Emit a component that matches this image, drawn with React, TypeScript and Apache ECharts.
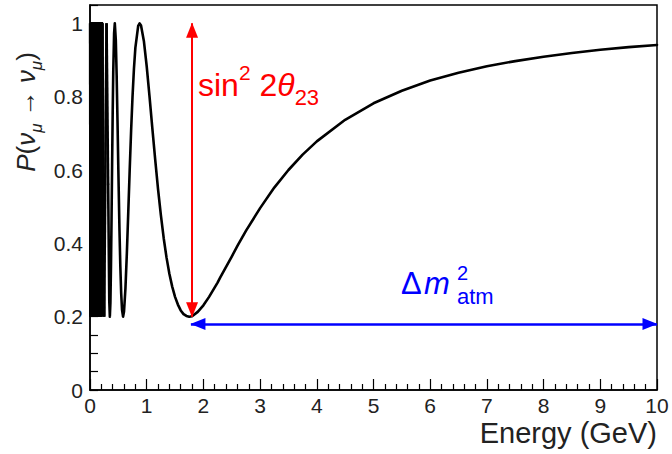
import React, { useEffect, useRef } from "react";
import * as echarts from "echarts";

// Muon-neutrino survival probability
const energyGeV = [
  0.002, 0.01, 0.018, 0.026, 0.034, 0.042, 0.05, 0.058, 0.066, 0.074, 0.082, 0.09, 0.098, 0.106,
  0.114, 0.122, 0.13, 0.138, 0.146, 0.1591, 0.175, 0.1944, 0.2188, 0.25, 0.2917, 0.32, 0.34,
  0.35, 0.36, 0.37, 0.38, 0.39, 0.4, 0.41, 0.425, 0.4375, 0.455, 0.47, 0.485, 0.5, 0.52, 0.535,
  0.55, 0.565, 0.583, 0.6, 0.625, 0.65, 0.675, 0.7, 0.725, 0.75, 0.775, 0.8, 0.85, 0.875, 0.9,
  0.95, 1.0, 1.05, 1.1, 1.15, 1.2, 1.25, 1.3, 1.35, 1.4, 1.45, 1.5, 1.55, 1.6, 1.65, 1.7, 1.75,
  1.8, 1.9, 2.0, 2.1, 2.2, 2.25, 2.3, 2.4, 2.5, 2.6, 2.75, 3.0, 3.25, 3.5, 3.75, 4.0, 4.5, 5.0,
  5.5, 6.0, 6.5, 7.0, 7.5, 8.0, 8.5, 9.0, 9.5, 10.0,
];
const survivalProb = [
  1.0, 0.2, 1.0, 0.2, 1.0, 0.2, 1.0, 0.2, 1.0, 0.2, 1.0, 0.2, 1.0, 0.2,
  1.0, 0.2, 1.0, 0.2, 1.0, 0.2, 1.0, 0.2, 1.0, 0.2, 1.0, 0.56, 0.242,
  0.2, 0.238, 0.337, 0.468, 0.616, 0.753, 0.867, 0.973, 1.0, 0.955, 0.859, 0.734, 0.6, 0.435, 0.337,
  0.264, 0.219, 0.2, 0.214, 0.277, 0.373, 0.485, 0.6, 0.707, 0.8, 0.876, 0.933, 0.993, 1.0, 0.994,
  0.952, 0.883, 0.8, 0.713, 0.628, 0.548, 0.477, 0.414, 0.361, 0.317, 0.282, 0.254, 0.233, 0.217, 0.207, 0.202, 0.2,
  0.201, 0.213, 0.231, 0.254, 0.28, 0.293, 0.308, 0.336, 0.364, 0.393, 0.434, 0.496, 0.552, 0.6, 0.642, 0.678, 0.737, 0.782,
  0.816, 0.844, 0.865, 0.883, 0.897, 0.909, 0.919, 0.928, 0.935, 0.941,
];
// envelope of the unresolved fast oscillations at low energy (solid black band)
const bandEnergy = [0.0, 0.232];
const bandTop = [1.0, 1.0];
const bandBottom = 0.2;
// the fast-oscillation region (points below this index) is drawn segment by segment
const denseEndIndex = 25;
const xTickLabels = ["0", "1", "2", "3", "4", "5", "6", "7", "8", "9", "10"];
const yTickLabels = ["0", "0.2", "0.4", "0.6", "0.8", "1"];
// arrows: [energy, prob] end points
const mixingArrow = [
  [1.8, 0.2],
  [1.8, 1.0],
];
const massArrow = [
  [1.78, 0.18],
  [10.0, 0.18],
];

const FONT = "Liberation Sans";

export default function App() {
  const ref = useRef<HTMLDivElement>(null);
  useEffect(() => {
    if (!ref.current) return;
    const chart = echarts.init(ref.current, null, { renderer: "svg" });
    const pts = energyGeV.map((e, i) => [e, survivalProb[i]]);
    const denseSegments = [];
    for (let i = 0; i < denseEndIndex; i++) {
      denseSegments.push({ coords: [pts[i], pts[i + 1]] });
    }
    const smoothPart = pts.slice(denseEndIndex);
    const band = bandEnergy.map((e, i) => [e, bandTop[i]]);
    chart.setOption({
      animation: false,
      backgroundColor: "#fff",
      grid: {
        left: 90,
        right: 15,
        top: 5,
        bottom: 64,
        show: true,
        borderColor: "#000",
        borderWidth: 1.5,
        backgroundColor: "transparent",
      },
      xAxis: {
        type: "value",
        min: 0,
        max: 10,
        interval: 1,
        axisLine: { show: true, lineStyle: { color: "#000", width: 1.5 } },
        axisTick: { show: true, inside: true, length: 11, lineStyle: { color: "#000", width: 1.2 } },
        minorTick: { show: true, splitNumber: 5, length: 6, lineStyle: { color: "#000", width: 1.2 } },
        splitLine: { show: false },
        axisLabel: {
          margin: 5,
          fontSize: 21,
          fontFamily: FONT,
          color: "#222",
          formatter: (v: number) => {
            const i = Math.round(v);
            return Math.abs(v - i) < 1e-6 ? xTickLabels[i] ?? "" : "";
          },
        },
      },
      yAxis: {
        type: "value",
        min: 0,
        max: 1.05,
        interval: 0.05,
        axisLine: { show: true, lineStyle: { color: "#000", width: 1.5 } },
        axisTick: { show: true, inside: true, length: 8, lineStyle: { color: "#000", width: 1.2 } },
        splitLine: { show: false },
        axisLabel: {
          margin: 7,
          fontSize: 21,
          fontFamily: FONT,
          color: "#222",
          formatter: (v: number) => {
            const l = yTickLabels.find((t) => Math.abs(parseFloat(t) - v) < 1e-6);
            return l ?? "";
          },
        },
      },
      series: [
        {
          type: "line",
          data: band,
          showSymbol: false,
          symbol: "none",
          clip: true,
          lineStyle: { color: "#000", width: 2.6 },
          areaStyle: { color: "#000", opacity: 1, origin: bandBottom },
          z: 2,
        },
        {
          type: "lines",
          coordinateSystem: "cartesian2d",
          polyline: true,
          data: denseSegments,
          large: false,
          lineStyle: { color: "#000", width: 2.6, opacity: 1, cap: "butt", join: "round", curveness: 0 },
          z: 2,
        },
        {
          type: "line",
          data: smoothPart,
          showSymbol: false,
          symbol: "none",
          clip: true,
          lineStyle: { color: "#000", width: 2.6, join: "round", cap: "round" },
          z: 2,
          markLine: {
            silent: true,
            symbol: ["triangle", "triangle"],
            symbolSize: [12, 15],
            symbolOffset: [
              [0, 7],
              [0, 7],
            ],
            label: { show: false },
            z: 3,
            data: [
              [
                { coord: mixingArrow[0], lineStyle: { color: "#ff0000", width: 2, type: "solid" }, itemStyle: { color: "#ff0000" } },
                { coord: mixingArrow[1] },
              ],
              [
                { coord: massArrow[0], lineStyle: { color: "#0000ff", width: 2.5, type: "solid" }, itemStyle: { color: "#0000ff" } },
                { coord: massArrow[1] },
              ],
            ],
          },
        },
      ],
      graphic: [
        {
          type: "text",
          x: 198,
          y: 85,
          z: 10,
          style: {
            text: "{n|sin}{sup|2}{n| 2}{it|θ}{sub|23}",
            fill: "#ff0000",
            align: "left",
            verticalAlign: "middle",
            rich: {
              n: { fontSize: 32, fontFamily: FONT, lineHeight: 46, color: "#ff0000" },
              it: { fontSize: 32, fontFamily: FONT, fontStyle: "italic", lineHeight: 46, color: "#ff0000" },
              sup: { fontSize: 21, fontFamily: FONT, lineHeight: 24, verticalAlign: "top", color: "#ff0000" },
              sub: { fontSize: 22, fontFamily: FONT, lineHeight: 22, verticalAlign: "bottom", color: "#ff0000" },
            },
          },
        },
        {
          type: "text",
          x: 401,
          y: 283,
          z: 10,
          style: { text: "Δ", fill: "#0000ff", fontSize: 31, fontFamily: FONT, align: "left", verticalAlign: "middle" },
        },
        {
          type: "text",
          x: 424,
          y: 283,
          z: 10,
          style: { text: "m", fill: "#0000ff", fontSize: 31, fontStyle: "italic", fontFamily: FONT, align: "left", verticalAlign: "middle" },
        },
        {
          type: "text",
          x: 457,
          y: 273,
          z: 10,
          style: { text: "2", fill: "#0000ff", fontSize: 20, fontFamily: FONT, align: "left", verticalAlign: "middle" },
        },
        {
          type: "text",
          x: 457,
          y: 296,
          z: 10,
          style: { text: "atm", fill: "#0000ff", fontSize: 22, fontFamily: FONT, align: "left", verticalAlign: "middle" },
        },
        {
          type: "text",
          x: 657,
          y: 433,
          z: 10,
          style: { text: "Energy (GeV)", fill: "#222", fontSize: 29, fontFamily: FONT, align: "right", verticalAlign: "middle" },
        },
        {
          type: "text",
          x: 26,
          y: 112,
          rotation: Math.PI / 2,
          z: 10,
          style: {
            text: "{it|P}{n|(}{it|ν}{sub|μ}{n| → }{it|ν}{sub|μ}{n|)}",
            fill: "#222",
            align: "center",
            verticalAlign: "middle",
            rich: {
              n: { fontSize: 26, fontFamily: FONT, lineHeight: 38, color: "#222" },
              it: { fontSize: 26, fontFamily: FONT, fontStyle: "italic", lineHeight: 38, color: "#222" },
              sub: { fontSize: 17, fontFamily: FONT, fontStyle: "italic", lineHeight: 17, verticalAlign: "bottom", color: "#222" },
            },
          },
        },
      ],
    });
    return () => chart.dispose();
  }, []);
  return <div ref={ref} style={{ position: "fixed", left: 0, top: 0, width: 672, height: 454 }} />;
}
